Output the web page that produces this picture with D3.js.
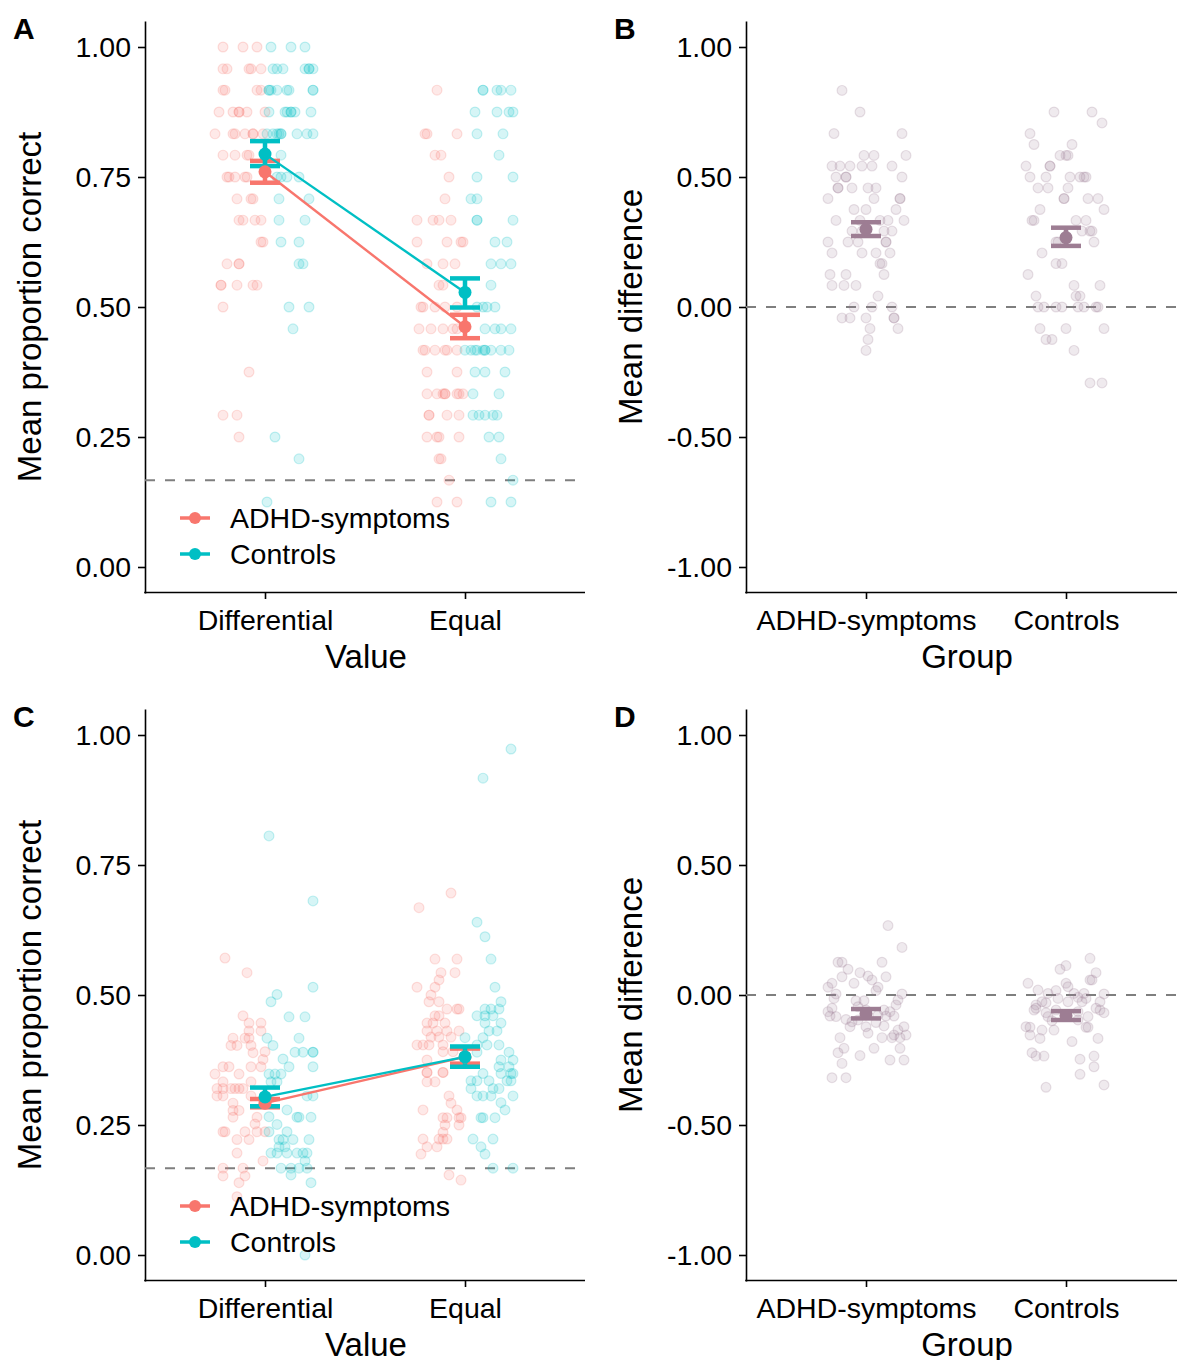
<!DOCTYPE html>
<html><head><meta charset="utf-8">
<script src="https://cdn.jsdelivr.net/npm/d3@7"></script>
<style>
body{margin:0;background:#fff;}
text{font-family:"Liberation Sans",Arial,Helvetica,sans-serif;fill:#000;}
</style></head>
<body><svg id="c" width="1177" height="1360"></svg>
<script>
// ---------- DATA ----------
const groups = ["ADHD-symptoms", "Controls"];
const valueCats = ["Differential", "Equal"];
const groupCats = ["ADHD-symptoms", "Controls"];
const propTicks = [0, 0.25, 0.5, 0.75, 1];
const diffTicks = [-1, -0.5, 0, 0.5, 1];
const chanceLevel = 1 / 6;

// rows: [value, jitter1, jitter2, ...] jitter in category units
const aDiffADHD = [[1.000,-0.21,-0.11,-0.04],[0.958,-0.21,-0.19,-0.08,-0.07,-0.02],[0.917,-0.21,-0.20,-0.04,-0.02],
 [0.875,-0.23,-0.16,-0.13,-0.13,-0.09,0.0],[0.833,-0.25,-0.16,-0.15,-0.10,-0.06,-0.06,-0.01],[0.792,-0.21,-0.15,-0.09,-0.08],
 [0.750,-0.19,-0.18,-0.15,-0.10,-0.09],[0.708,-0.14,-0.07,-0.06],[0.667,-0.13,-0.11,-0.05,-0.02],[0.625,-0.02,-0.01],
 [0.583,-0.19,-0.13,-0.13],[0.542,-0.22,-0.22,-0.14,-0.06,-0.04],[0.500,-0.21],[0.375,-0.08],[0.292,-0.21,-0.14],[0.250,-0.13]];
const aDiffCtrl = [[1.000,0.03,0.13,0.20],[0.958,0.04,0.06,0.09,0.20,0.22,0.22,0.24],[0.917,0.02,0.02,0.03,0.06,0.11,0.12,0.24,0.24],
 [0.875,0.02,0.10,0.11,0.13,0.13,0.15,0.23],[0.833,0.01,0.04,0.06,0.07,0.08,0.08,0.16,0.21,0.24],[0.792,0.08],
 [0.750,0.06,0.08,0.11,0.17],[0.708,0.07,0.22],[0.667,0.07,0.20],[0.625,0.08,0.17],[0.583,0.17,0.19],[0.500,0.12,0.22],
 [0.458,0.14],[0.250,0.05],[0.208,0.17],[0.125,0.01]];
const aEqADHD = [[0.917,-0.14],[0.833,-0.20,-0.19,-0.04],[0.792,-0.15,-0.12],[0.750,-0.08],[0.708,-0.10],
 [0.667,-0.24,-0.16,-0.13,-0.07],[0.625,-0.24,-0.09,-0.02,-0.01],[0.583,-0.19,-0.11,-0.05],[0.542,-0.13,-0.11],
 [0.500,-0.22,-0.21,-0.15,-0.10,-0.04],[0.458,-0.23,-0.17,-0.11,-0.06,-0.04],[0.417,-0.21,-0.20,-0.15,-0.10,-0.09,-0.04],
 [0.375,-0.19,-0.04],[0.333,-0.19,-0.14,-0.11,-0.10,-0.10,-0.04,-0.03,-0.01],[0.292,-0.18,-0.18,-0.09,-0.03],
 [0.250,-0.19,-0.14,-0.13,-0.03],[0.208,-0.13,-0.12],[0.167,-0.08],[0.125,-0.14,-0.04]];
const aEqCtrl = [[0.917,0.09,0.09,0.16,0.18,0.23],[0.875,0.05,0.16,0.22,0.24],[0.833,0.06,0.19],[0.792,0.17],[0.750,0.06,0.24],
 [0.708,0.03,0.06],[0.667,0.06,0.06,0.24],[0.625,0.15,0.21],[0.583,0.13,0.18,0.23],[0.542,0.13],[0.500,0.06,0.09,0.11,0.15],
 [0.458,0.10,0.15,0.18,0.23],[0.417,0.00,0.03,0.05,0.06,0.09,0.10,0.10,0.13,0.18,0.22],[0.375,0.05,0.10,0.20],[0.333,0.04,0.17],
 [0.292,0.04,0.07,0.10,0.14,0.16],[0.250,0.12,0.17],[0.208,0.18],[0.167,0.24],[0.125,0.13,0.23]];

const bADHD = [[0.833,-0.12],[0.750,-0.03],[0.667,-0.16,0.18],[0.583,-0.01,0.04,0.20],[0.542,-0.17,-0.13,-0.08,-0.02,0.03,0.13],
 [0.500,-0.15,-0.10,-0.10,0.18],[0.458,-0.14,-0.14,-0.07,0.01,0.05],[0.417,-0.19,0.04,0.17,0.17],[0.375,-0.06,0.0,0.15],
 [0.333,-0.15,-0.03,0.07,0.11,0.19],[0.292,-0.07,-0.02,0.09,0.13],[0.250,-0.19,-0.09,-0.04,0.10,0.10],[0.208,-0.17,-0.02,0.05,0.12],
 [0.167,0.07,0.08],[0.125,-0.18,-0.10,0.09],[0.083,-0.17,-0.11,-0.05],[0.042,0.06],[0.000,-0.06,0.03,0.13],
 [-0.042,-0.12,-0.08,0.0,0.14,0.14],[-0.083,0.02,0.16],[-0.125,0.01],[-0.167,0.0]];
const bCtrl = [[0.750,-0.06,0.13],[0.708,0.18],[0.667,-0.18],[0.625,-0.16,0.03],[0.583,-0.03,0.0,0.01],[0.542,-0.20,-0.08,-0.08],
 [0.500,-0.18,-0.10,0.02,0.07,0.09,0.10],[0.458,-0.14,-0.09,0.01],[0.417,-0.01,-0.01,0.11,0.16],[0.375,-0.13,0.19],
 [0.333,-0.17,-0.16,0.05,0.10],[0.292,0.08,0.12,0.13],[0.250,-0.05,-0.04,0.14],[0.208,-0.12],[0.167,-0.05,-0.02],[0.125,-0.19],
 [0.083,0.04,0.17],[0.042,-0.15,0.05,0.07],[0.000,-0.14,-0.11,-0.05,-0.02,0.06,0.09,0.15,0.16],[-0.083,-0.13,0.0,0.19],
 [-0.125,-0.10,-0.07],[-0.167,0.04],[-0.292,0.12,0.18]];

const cDiffADHD = [[0.571,-0.20],[0.543,-0.09],[0.460,-0.11],[0.446,-0.08,-0.02],[0.431,-0.08,-0.02],[0.417,-0.16,-0.10,-0.08],
 [0.403,-0.17,-0.14,-0.07],[0.391,0.0],[0.389,-0.06],[0.376,-0.01],[0.362,-0.21,-0.18,-0.07,-0.02],[0.348,-0.25,-0.13],
 [0.333,-0.21,-0.07],[0.320,-0.24,-0.21,-0.17,-0.15,-0.13,-0.11],[0.306,-0.24,-0.21,-0.07],[0.292,-0.16],[0.278,-0.13,-0.16],
 [0.265,-0.16,-0.04],[0.252,-0.05],[0.237,-0.21,-0.20,-0.10,-0.04,0.0],[0.222,-0.14,-0.08],[0.196,-0.14],[0.181,-0.01],
 [0.167,-0.21,-0.11],[0.152,-0.21,-0.10],[0.139,-0.13],[0.112,-0.14]];
const cDiffCtrl = [[0.806,0.02],[0.681,0.24],[0.515,0.24],[0.501,0.06],[0.487,0.03],[0.458,0.12,0.20],[0.417,0.17,0.01],[0.403,0.04],
 [0.390,0.15,0.19,0.24,0.24],[0.377,0.09],[0.362,0.12,0.24],[0.348,0.02,0.05,0.08],[0.333,0.06,0.03],[0.306,0.21,0.24],[0.279,0.11],
 [0.266,0.02],[0.265,0.16,0.17,0.23],[0.251,0.06],[0.237,0.02,0.11],[0.222,0.09,0.07,0.14,0.22],[0.208,0.07,0.10],
 [0.196,0.03,0.06,0.11,0.16,0.19,0.21],[0.181,0.20],[0.167,0.08,0.13,0.17,0.21],[0.154,0.13],[0.139,0.23],[0.000,0.20]];
const cEqADHD = [[0.696,-0.07],[0.668,-0.23],[0.569,-0.15,-0.04],[0.543,-0.12,-0.05],[0.529,-0.13],[0.515,-0.24,-0.15],[0.500,-0.17],
 [0.487,-0.18,-0.13],[0.473,-0.09,-0.04,-0.03],[0.460,-0.15,-0.13],[0.446,-0.19,-0.16,-0.10],[0.431,-0.19,-0.14,-0.09,-0.03],
 [0.419,-0.17,-0.13,-0.07],[0.404,-0.24,-0.21,-0.18,-0.11],[0.391,-0.11,-0.06],[0.375,-0.19],[0.351,-0.19,-0.11,-0.19,-0.11],
 [0.333,-0.19,-0.15],[0.306,-0.08],[0.292,-0.07],[0.279,-0.21,-0.04],[0.264,-0.11,-0.09,-0.03,-0.02],[0.250,-0.10,-0.03],
 [0.236,-0.11],[0.223,-0.21,-0.13,-0.11,-0.09],[0.208,-0.19,-0.14],[0.194,-0.22],[0.154,-0.08],[0.144,-0.02]];
const cEqCtrl = [[0.973,0.23],[0.917,0.09],[0.640,0.06],[0.612,0.10],[0.569,0.13],[0.515,0.15],[0.487,0.18],[0.473,0.10,0.13,0.17],
 [0.460,0.06,0.10,0.14],[0.446,0.10,0.18],[0.431,0.12,0.16],[0.418,0.0,0.09],[0.404,0.06,0.17,0.11],[0.390,0.22,0.06],
 [0.375,0.18,0.24],[0.362,0.17,0.22],[0.349,0.09,0.18,0.23,0.24],[0.335,0.03,0.06,0.12,0.21,0.23],[0.320,0.03,0.14,0.17],
 [0.306,0.06,0.09,0.13,0.24],[0.293,0.18],[0.279,0.20],[0.264,0.08,0.09,0.15],[0.223,0.04,0.14],[0.208,0.08],[0.194,0.10],
 [0.167,0.14,0.24]];

const dADHD = [[0.267,0.11],[0.183,0.18],[0.126,-0.14,-0.12,0.08],[0.099,-0.09],[0.086,-0.03],[0.073,0.01],[0.070,0.10,-0.12],
 [0.058,0.03],[0.045,-0.17,-0.06],[0.030,0.06,-0.19],[0.017,0.05],[0.004,-0.15,0.18],[-0.013,-0.16],[-0.019,0.16],[-0.022,-0.05,-0.01],
 [-0.038,0.15],[-0.045,-0.04],[-0.051,-0.17],[-0.058,0.0,0.09],[-0.064,-0.19,0.12],[-0.077,0.06],[-0.081,-0.18,0.14,0.10],
 [-0.083,-0.15],[-0.094,-0.10],[-0.096,-0.04],[-0.103,-0.07],[-0.106,0.05],[-0.119,0.09],[-0.122,0.19,-0.08,0.0],[-0.135,0.16],
 [-0.147,0.01],[-0.154,0.14,0.20],[-0.164,-0.13,0.08,0.13,0.17],[-0.205,-0.11,0.04,0.17],[-0.222,-0.14],[-0.233,-0.03],
 [-0.250,0.12,0.19],[-0.263,-0.12],[-0.318,-0.17,-0.10]];
const dCtrl = [[0.141,0.12],[0.113,0.0],[0.099,-0.03],[0.086,0.15],[0.058,0.12,0.13],[0.045,-0.19,0.0],[0.032,0.01],[0.019,-0.14],
 [0.017,-0.05],[0.006,-0.09,0.04,0.09],[0.004,0.19],[-0.009,0.06],[-0.013,-0.04,0.10],[-0.026,-0.12,0.01,0.17,0.08],[-0.030,-0.10],
 [-0.038,-0.15],[-0.051,-0.15,0.15],[-0.058,-0.16,0.17,-0.05],[-0.064,0.06],[-0.068,0.19,-0.10],[-0.083,-0.09,0.11],[-0.096,0.06],
 [-0.099,-0.07],[-0.122,-0.20],[-0.124,-0.18,0.10,0.11],[-0.135,-0.12,-0.06],[-0.154,-0.18],[-0.167,-0.13,0.16],[-0.179,0.03],
 [-0.222,-0.17],[-0.235,-0.15,-0.11,0.14],[-0.247,0.07],[-0.276,0.14],[-0.305,0.07],[-0.346,0.19],[-0.355,-0.10]];

// summary: mean, lower, upper (per value category)
const aMeanADHD = [0.760, 0.462], aLoADHD = [0.739, 0.440], aHiADHD = [0.781, 0.485];
const aMeanCtrl = [0.794, 0.528], aLoCtrl = [0.771, 0.499], aHiCtrl = [0.819, 0.555];
const cMeanADHD = [0.292, 0.381], cLoADHD = [0.284, 0.368], cHiADHD = [0.300, 0.397];
const cMeanCtrl = [0.304, 0.381], cLoCtrl = [0.286, 0.362], cHiCtrl = [0.322, 0.401];
const bMean = [0.299, 0.267], bLo = [0.273, 0.235], bHi = [0.326, 0.305];
const dMean = [-0.072, -0.079], dLo = [-0.090, -0.096], dHi = [-0.054, -0.062];

// ---------- DRAW ----------
const col = {"ADHD-symptoms": "#F8766D", "Controls": "#00BFC4"};
const diffCol = "#9D7D93";
const svg = d3.select("#c");
const expand = (rows, cat) => rows.flatMap(r => r.slice(1).map(j => ({x: cat + j, v: r[0]})));

function frame(ox, oy, yDomain, ticks, cats, yTitle, xTitle, label, rightEdge) {
  const x = d3.scaleLinear().domain([0.4, 2.6]).range([ox, ox + 440]);
  const y = d3.scaleLinear().domain(yDomain).range([oy + 573, oy + 1]);
  const g = svg.append("g");
  const fmt = v => v.toFixed(2);
  const ya = g.append("g").attr("transform", `translate(${ox},0)`)
    .call(d3.axisLeft(y).tickValues(ticks).tickFormat(fmt).tickSize(7).tickSizeOuter(0).tickPadding(7));
  const xa = g.append("g").attr("transform", `translate(0,${oy + 572})`)
    .call(d3.axisBottom(x).tickValues([1, 2]).tickFormat((d, i) => cats[i]).tickSize(7).tickSizeOuter(0).tickPadding(5));
  xa.select(".domain").attr("d", `M${ox - 0.8},0.5H${rightEdge}`);
  [ya, xa].forEach(a => {
    a.select(".domain").attr("stroke", "#000").attr("stroke-width", 1.6);
    a.selectAll(".tick line").attr("stroke", "#000").attr("stroke-width", 1.6);
    a.selectAll(".tick text").style("font-size", "28.5px").attr("fill", "#000")
      .style("font-family", '"Liberation Sans",Arial,sans-serif');
  });
  xa.selectAll(".tick text").attr("dy", "0.9em");
  g.append("text").attr("transform", `translate(${ox - 104},${oy + 287}) rotate(-90)`)
    .attr("text-anchor", "middle").style("font-size", "33px").text(yTitle);
  g.append("text").attr("x", ox + 221).attr("y", oy + 648).attr("text-anchor", "middle")
    .style("font-size", "33px").text(xTitle);
  g.append("text").attr("x", ox - 132).attr("y", oy + 19).style("font-size", "30px")
    .style("font-weight", "bold").text(label);
  return {x, y, g};
}

function dashed(p, v, x0, x1) {
  p.g.append("line").attr("x1", x0).attr("x2", x1).attr("y1", p.y(v)).attr("y2", p.y(v))
    .attr("stroke", "#7f7f7f").attr("stroke-width", 2).attr("stroke-dasharray", "10,10");
}
function pts(p, data, color) {
  p.g.append("g").selectAll("circle").data(data).join("circle")
    .attr("cx", d => p.x(d.x)).attr("cy", d => p.y(d.v)).attr("r", 4.9)
    .attr("fill", color).attr("fill-opacity", 0.16)
    .attr("stroke", color).attr("stroke-opacity", 0.22).attr("stroke-width", 1.2);
}
function errbar(p, cx, lo, hi, color) {
  const hw = 0.075;
  const g = p.g.append("g").attr("stroke", color).attr("stroke-width", 4.5).attr("fill", "none");
  g.append("line").attr("x1", p.x(cx)).attr("x2", p.x(cx)).attr("y1", p.y(lo)).attr("y2", p.y(hi));
  g.append("line").attr("x1", p.x(cx - hw)).attr("x2", p.x(cx + hw)).attr("y1", p.y(lo)).attr("y2", p.y(lo));
  g.append("line").attr("x1", p.x(cx - hw)).attr("x2", p.x(cx + hw)).attr("y1", p.y(hi)).attr("y2", p.y(hi));
}
function meanDot(p, cx, v, color) {
  p.g.append("circle").attr("cx", p.x(cx)).attr("cy", p.y(v)).attr("r", 6.5).attr("fill", color);
}
function meanLine(p, means, color) {
  p.g.append("path").attr("d", d3.line().x((d, i) => p.x(i + 1)).y(d => p.y(d))(means))
    .attr("stroke", color).attr("stroke-width", 2.4).attr("fill", "none");
}
function legend(p, oy) {
  groups.forEach((gname, i) => {
    const yy = oy + 498 + i * 36;
    p.g.append("line").attr("x1", 180).attr("x2", 210).attr("y1", yy).attr("y2", yy)
      .attr("stroke", col[gname]).attr("stroke-width", 3.5);
    p.g.append("circle").attr("cx", 195).attr("cy", yy).attr("r", 6).attr("fill", col[gname]);
    p.g.append("text").attr("x", 230).attr("y", yy + 10).style("font-size", "28.5px").text(gname);
  });
}

function propPanel(oy, label, dA, dC, eA, eC, mA, loA, hiA, mC, loC, hiC) {
  const p = frame(145, oy, [-0.05, 1.05], propTicks, valueCats, "Mean proportion correct", "Value", label, 585);
  dashed(p, chanceLevel, 145, 585);
  pts(p, [...expand(dA, 1), ...expand(eA, 2)], col["ADHD-symptoms"]);
  pts(p, [...expand(dC, 1), ...expand(eC, 2)], col["Controls"]);
  [0, 1].forEach(i => errbar(p, i + 1, loA[i], hiA[i], col["ADHD-symptoms"]));
  [0, 1].forEach(i => errbar(p, i + 1, loC[i], hiC[i], col["Controls"]));
  meanLine(p, mA, col["ADHD-symptoms"]);
  meanLine(p, mC, col["Controls"]);
  [0, 1].forEach(i => meanDot(p, i + 1, mA[i], col["ADHD-symptoms"]));
  [0, 1].forEach(i => meanDot(p, i + 1, mC[i], col["Controls"]));
  legend(p, oy);
}
function diffPanel(oy, label, dA, dC, m, lo, hi) {
  const p = frame(746, oy, [-1.1, 1.1], diffTicks, groupCats, "Mean difference", "Group", label, 1177);
  dashed(p, 0, 746, 1177);
  pts(p, [...expand(dA, 1), ...expand(dC, 2)], diffCol);
  [0, 1].forEach(i => { errbar(p, i + 1, lo[i], hi[i], diffCol); meanDot(p, i + 1, m[i], diffCol); });
}

propPanel(20, "A", aDiffADHD, aDiffCtrl, aEqADHD, aEqCtrl, aMeanADHD, aLoADHD, aHiADHD, aMeanCtrl, aLoCtrl, aHiCtrl);
diffPanel(20, "B", bADHD, bCtrl, bMean, bLo, bHi);
propPanel(708, "C", cDiffADHD, cDiffCtrl, cEqADHD, cEqCtrl, cMeanADHD, cLoADHD, cHiADHD, cMeanCtrl, cLoCtrl, cHiCtrl);
diffPanel(708, "D", dADHD, dCtrl, dMean, dLo, dHi);
</script></body></html>
